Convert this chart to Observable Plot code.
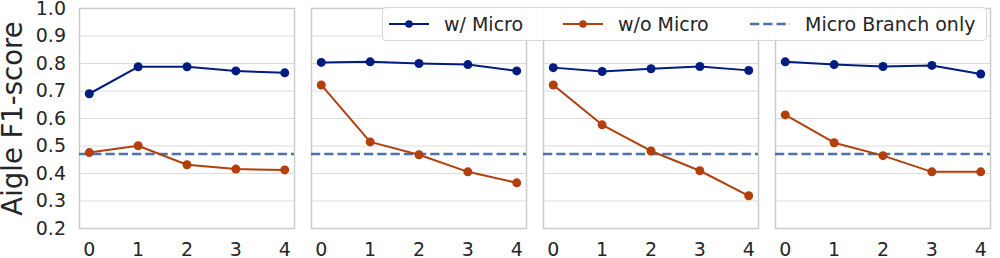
<!DOCTYPE html>
<html>
<head>
<meta charset="utf-8">
<script src="https://cdn.jsdelivr.net/npm/d3@7"></script>
<script src="https://cdn.jsdelivr.net/npm/@observablehq/plot@0.6"></script>
<style>
  html, body { margin: 0; padding: 0; background: white; }
  #wrap { position: relative; width: 1000px; height: 258px; font-family: "DejaVu Sans", sans-serif; color: #262626; }
  #legend { position: absolute; left: 382px; top: 7px; width: 605px; height: 34px; background: rgba(255,255,255,0.92);
            border: 1px solid #d6d6d6; border-radius: 4px; box-sizing: border-box; font-size: 19px; }
  #legend .item { position: absolute; top: 0; height: 32px; display: flex; align-items: center; white-space: nowrap; }
  #legend svg { margin-right: 15px; display: block; }
</style>
</head>
<body>
<div id="wrap">
  <div id="chart"></div>
  <div id="legend"></div>
</div>
<script>
// ---- data ----
const panels = ["A", "B", "C", "D"];
const steps = [0, 1, 2, 3, 4];
const seriesNames = ["w/ Micro", "w/o Micro", "Micro Branch only"];
const seriesColors = ["#001c7f", "#b1400d", "#4c72b0"];
const withMicro = [
  [0.690, 0.788, 0.788, 0.773, 0.766],
  [0.804, 0.806, 0.800, 0.796, 0.773],
  [0.785, 0.771, 0.781, 0.789, 0.775],
  [0.806, 0.796, 0.789, 0.793, 0.762]
];
const withoutMicro = [
  [0.476, 0.501, 0.432, 0.416, 0.413],
  [0.722, 0.515, 0.468, 0.406, 0.366],
  [0.722, 0.577, 0.482, 0.410, 0.319],
  [0.613, 0.512, 0.465, 0.406, 0.406]
];
const microBranchOnly = [0.471, 0.471, 0.471, 0.471];
const yTicks = [0.2, 0.3, 0.4, 0.5, 0.6, 0.7, 0.8, 0.9, 1.0];
const yLabel = "Aigle F1-score";

// ---- build table ----
const rows = [];
panels.forEach((p, i) => {
  steps.forEach((s, j) => {
    rows.push({panel: p, step: s, value: withMicro[i][j], series: seriesNames[0]});
    rows.push({panel: p, step: s, value: withoutMicro[i][j], series: seriesNames[1]});
  });
});
const baseRows = panels.map((p, i) => ({panel: p, value: microBranchOnly[i], series: seriesNames[2]}));

const chart = Plot.plot({
  width: 1000,
  height: 258,
  marginLeft: 79,
  marginRight: 10,
  marginTop: 8,
  marginBottom: 30,
  style: {fontFamily: "DejaVu Sans, sans-serif", fontSize: "19px", color: "#262626", background: "white", overflow: "visible"},
  fx: {domain: panels, paddingInner: 17 / 232, paddingOuter: 0, axis: null, label: null},
  x: {domain: [-0.2, 4.2], ticks: steps, tickFormat: "d", tickSize: 0, tickPadding: 13.5, label: null},
  y: {domain: [0.2, 1.0], ticks: yTicks, tickFormat: ".1f", tickSize: 0, tickPadding: 13.5, label: null},
  color: {domain: seriesNames, range: seriesColors},
  marks: [
    Plot.gridY(yTicks, {stroke: "#dcdcdc", strokeOpacity: 1, strokeWidth: 1}),
    Plot.frame({stroke: "#cccccc", strokeWidth: 1.5}),
    Plot.ruleY(baseRows, {fx: "panel", y: "value", stroke: "series", strokeWidth: 2.5, strokeDasharray: "9.25,4"}),
    Plot.line(rows, {fx: "panel", x: "step", y: "value", z: "series", stroke: "series", strokeWidth: 2}),
    Plot.dot(rows, {fx: "panel", x: "step", y: "value", fill: "series", r: 4.5, stroke: null}),
    Plot.text([{panel: panels[0]}], {fx: "panel", frameAnchor: "left", textAnchor: "middle", lineAnchor: "middle",
      text: () => yLabel, rotate: -90, dx: -66, fontSize: 27.5, fill: "#262626"})
  ]
});
document.getElementById("chart").appendChild(chart);

// ---- legend ----
const legend = document.getElementById("legend");
const legendLeft = [6, 180, 367];
seriesNames.forEach((name, i) => {
  const item = document.createElement("div");
  item.className = "item";
  item.style.left = legendLeft[i] + "px";
  const dashed = i === 2;
  item.innerHTML = `<svg width="40" height="12" viewBox="0 0 40 12">
      <line x1="0" x2="40" y1="6" y2="6" stroke="${seriesColors[i]}" stroke-width="${dashed ? 2.5 : 2}" ${dashed ? 'stroke-dasharray="9.25,4"' : ''}/>
      ${dashed ? '' : `<circle cx="20" cy="6" r="3.8" fill="${seriesColors[i]}"/>`}
    </svg><span>${name}</span>`;
  legend.appendChild(item);
});
</script>
</body>
</html>
